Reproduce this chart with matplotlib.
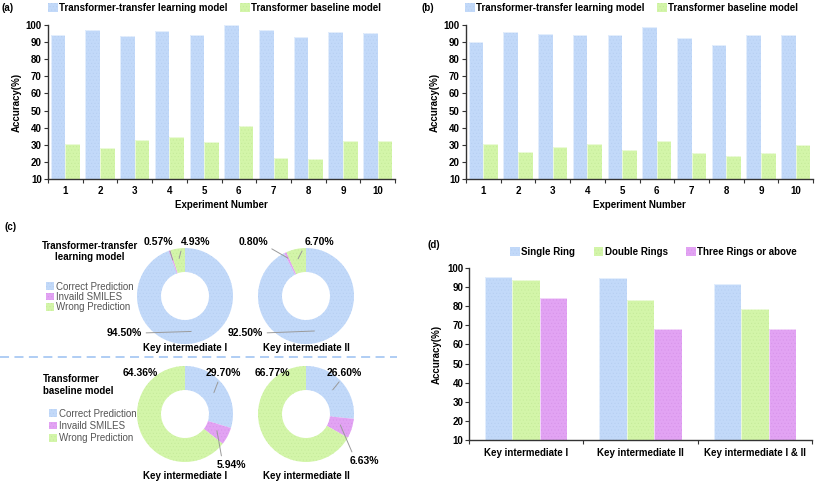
import numpy as np
import matplotlib
matplotlib.use("Agg")
import matplotlib.pyplot as plt

plt.rcParams['font.family'] = ['Liberation Sans', 'DejaVu Sans']
plt.rcParams['font.weight'] = 'bold'
plt.rcParams['font.size'] = 7
plt.rcParams['axes.labelweight'] = 'bold'
plt.rcParams['hatch.linewidth'] = 0.3

BLUE = '#c2d9f9'
GREEN = '#d3f5a9'
PINK = '#e2a3f3'
# slightly darker shades for the faint dot texture
DOTS = {BLUE: '#b4cdf0', GREEN: '#c3e998', PINK: '#d592e8'}
AXIS = '#333333'
LEADER = '#9a9a9a'

W, H = 817, 483

# (a) / (b) accuracy per experiment
experiments = list(range(1, 11))
acc_transfer_a = [94.0, 96.8, 93.4, 96.4, 94.0, 99.9, 97.3, 93.2, 95.7, 95.3]
acc_baseline_a = [30.6, 27.9, 33.0, 34.8, 31.6, 40.8, 22.5, 21.9, 32.2, 32.4]
acc_transfer_b = [89.8, 95.7, 94.5, 94.3, 93.9, 98.6, 92.3, 88.1, 94.3, 93.9]
acc_baseline_b = [30.6, 25.8, 28.5, 30.3, 26.9, 32.4, 25.0, 23.4, 25.4, 29.6]
series_names = ['Transformer-transfer learning model', 'Transformer baseline model']

# (c) prediction outcome shares
outcome_labels = ['Correct Prediction', 'Invaild SMILES', 'Wrong Prediction']
transfer_ki1 = [94.50, 0.57, 4.93]
transfer_ki2 = [92.50, 0.80, 6.70]
baseline_ki1 = [29.70, 5.94, 64.36]
baseline_ki2 = [26.60, 6.63, 66.77]

# (d) accuracy by ring count
ring_groups = ['Key intermediate I', 'Key intermediate II', 'Key intermediate I & II']
ring_names = ['Single Ring', 'Double Rings', 'Three Rings or above']
single_ring = [95.1, 94.8, 91.5]
double_rings = [93.6, 83.4, 78.5]
three_rings = [84.3, 67.9, 67.9]


fig = plt.figure(figsize=(W / 100, H / 100), dpi=100)


def px_axes(left, top, right, bottom):
    return fig.add_axes([left / W, 1 - bottom / H, (right - left) / W, (bottom - top) / H])


def dotted_bar(ax, x, vals, width, col, label):
    ax.bar(x, vals, width, color=col, edgecolor=DOTS[col], linewidth=0,
           hatch='.....', label=label)
    # thin white separators between touching bars
    ax.bar(x, vals, width, fill=False, edgecolor='white', linewidth=0.4)


def style_axes(ax):
    for side in ['top', 'right']:
        ax.spines[side].set_visible(False)
    for side in ['left', 'bottom']:
        ax.spines[side].set_color(AXIS)
        ax.spines[side].set_linewidth(1.0)
    ax.set_ylim(10, 100)
    ax.set_yticks(range(10, 101, 10))
    ax.tick_params(axis='y', length=3, pad=1.5, color=AXIS, width=0.8)
    ax.tick_params(axis='x', which='major', length=0, pad=5)
    ax.tick_params(axis='x', which='minor', length=3, color=AXIS, width=0.8)


def experiment_panel(box, transfer, baseline, tag, tag_x, legend_x):
    ax = px_axes(*box)
    x = np.array(experiments)
    dotted_bar(ax, x - 0.21, transfer, 0.42, BLUE, series_names[0])
    dotted_bar(ax, x + 0.21, baseline, 0.42, GREEN, series_names[1])
    ax.set_xlim(0.5, 10.5)
    ax.set_xticks(x)
    ax.set_xticks(np.arange(0.5, 11, 1), minor=True)
    style_axes(ax)
    ax.set_xlabel('Experiment Number', labelpad=3)
    ax.set_ylabel('Accuracy(%)', labelpad=3)
    ax.legend(loc='center left', bbox_to_anchor=(legend_x / W, 1 - 8 / H),
              bbox_transform=fig.transFigure, ncol=2, frameon=False,
              handlelength=1.0, handleheight=1.0, handletextpad=0.15,
              columnspacing=1.3, borderpad=0, borderaxespad=0)
    fig.text(tag_x / W, 1 - 8 / H, tag, ha='left', va='center')
    return ax


experiment_panel((48, 25, 395, 179), acc_transfer_a, acc_baseline_a, '(a)', 2, 48)
experiment_panel((466, 25, 813, 179), acc_transfer_b, acc_baseline_b, '(b)', 421, 465)

# (d)
axd = px_axes(469, 268, 812, 440)
xg = np.arange(len(ring_groups))
for off, vals, col, name in zip([-0.24, 0, 0.24], [single_ring, double_rings, three_rings],
                                [BLUE, GREEN, PINK], ring_names):
    dotted_bar(axd, xg + off, vals, 0.24, col, name)
axd.set_xlim(-0.5, 2.5)
axd.set_xticks(xg)
axd.set_xticklabels(ring_groups)
axd.set_xticks(np.arange(-0.5, 3, 1), minor=True)
style_axes(axd)
axd.tick_params(axis='y', pad=1)
axd.tick_params(axis='x', which='major', pad=6)
axd.set_ylabel('Accuracy(%)', labelpad=4)
axd.legend(loc='center left', bbox_to_anchor=(510 / W, 1 - 252 / H),
           bbox_transform=fig.transFigure, ncol=3, frameon=False,
           handlelength=1.0, handleheight=1.0, handletextpad=0.15,
           columnspacing=1.9, borderpad=0, borderaxespad=0)
fig.text(428 / W, 1 - 245 / H, '(d)', ha='left', va='center')

# (c) donuts on an overlay in figure pixels (y up)
ov = fig.add_axes([0, 0, 1, 1])
R, RW = 48, 24


def donut(values, cx, cy):
    cols = [BLUE, PINK, GREEN]
    wedges, _ = ov.pie(values, colors=cols, startangle=90,
                       counterclock=False, radius=R, center=(cx, H - cy),
                       wedgeprops=dict(width=RW, linewidth=0))
    for w, c in zip(wedges, cols):
        w.set_edgecolor(DOTS[c])
        w.set_hatch('.....')
    return wedges


def mid_point(w, r):
    ang = np.deg2rad((w.theta1 + w.theta2) / 2)
    cx, cy = w.center
    return cx + r * np.cos(ang), cy + r * np.sin(ang)


def tag_slice(w, text, tx, ty, r, relpos, ha='center', va='center'):
    ov.annotate(text, xy=mid_point(w, r), xytext=(tx, H - ty), ha=ha, va=va,
                fontsize=7.5,
                arrowprops=dict(arrowstyle='-', color=LEADER, lw=0.7,
                                shrinkA=1, shrinkB=0, relpos=relpos))


w1 = donut(transfer_ki1, 185, 296)
w2 = donut(transfer_ki2, 306, 296)
w3 = donut(baseline_ki1, 185, 414)
w4 = donut(baseline_ki2, 306, 414)

tag_slice(w1[1], f'{transfer_ki1[1]:.2f}%', 158, 242, 38, (0.85, 0.1))
tag_slice(w1[2], f'{transfer_ki1[2]:.2f}%', 196, 242, 38, (0.05, 0.3))
tag_slice(w1[0], f'{transfer_ki1[0]:.2f}%', 142, 333, 36, (1, 0.5), ha='right')
tag_slice(w2[1], f'{transfer_ki2[1]:.2f}%', 253, 242, 42, (0.85, 0.3))
tag_slice(w2[2], f'{transfer_ki2[2]:.2f}%', 319, 242, 38, (0.05, 0.3))
tag_slice(w2[0], f'{transfer_ki2[0]:.2f}%', 263, 333, 36, (1, 0.5), ha='right')

ov.text(140, H - 373, f'{baseline_ki1[2]:.2f}%', ha='center', va='center', fontsize=7.5)
tag_slice(w3[0], f'{baseline_ki1[0]:.2f}%', 223, 373, 36, (0.4, 0.0))
tag_slice(w3[1], f'{baseline_ki1[1]:.2f}%', 231, 465, 36, (0.2, 1.0))
ov.text(272, H - 373, f'{baseline_ki2[2]:.2f}%', ha='center', va='center', fontsize=7.5)
tag_slice(w4[0], f'{baseline_ki2[0]:.2f}%', 344, 373, 36, (0.45, 0.0))
tag_slice(w4[1], f'{baseline_ki2[1]:.2f}%', 364, 461, 36, (0.15, 1.0))

for cx, cy, name in [(185, 348, 'Key intermediate I'), (306, 348, 'Key intermediate II'),
                     (185, 476, 'Key intermediate I'), (306, 476, 'Key intermediate II')]:
    ov.text(cx, H - cy, name, ha='center', va='center')

ov.text(90, H - 251.5, 'Transformer-transfer\nlearning model', ha='center', va='center',
        multialignment='center', linespacing=1.15)
ov.text(43, H - 385, 'Transformer\nbaseline model', ha='left', va='center',
        multialignment='left', linespacing=1.15)
ov.text(5, H - 227, '(c)', ha='left', va='center')

ov.plot([0, 397], [H - 357, H - 357], color='#a9c9f3', lw=1.3, ls=(0, (5, 3)))

for wedges, lx, ly, sp in [(w1, 46, 297, 0.05), (w3, 49, 426, 0.25)]:
    fig.legend(wedges, outcome_labels, loc='center left',
               bbox_to_anchor=(lx / W, 1 - ly / H), frameon=False,
               prop={'weight': 'normal', 'size': 7}, labelcolor='#555555',
               handlelength=0.8, handleheight=0.8, handletextpad=0.2,
               labelspacing=sp, borderpad=0, borderaxespad=0)

ov.set_xlim(0, W)
ov.set_ylim(0, H)
ov.set_aspect('auto')
ov.set_axis_off()

fig.savefig('out.png', dpi=100)
